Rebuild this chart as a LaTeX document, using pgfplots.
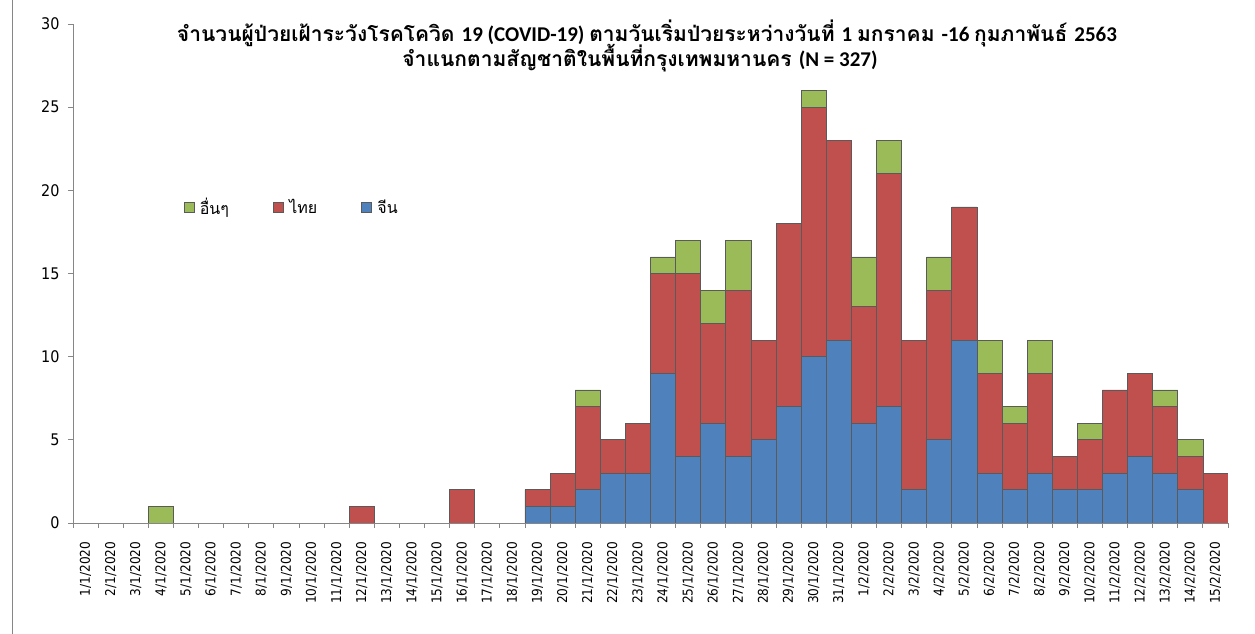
\documentclass[border=0pt]{standalone}
\usepackage{fontspec}
\setmainfont{DejaVu Sans Condensed}
\newfontfamily\thaifont[Script=Thai]{Loma}
\newfontfamily\latinfont{Carlito}
\usepackage{pgfplots}
\usepackage{pgfplotstable}
\pgfplotsset{compat=1.18}

\definecolor{cnblue}{HTML}{4F81BD}
\definecolor{thred}{HTML}{C0504D}
\definecolor{otgreen}{HTML}{9BBB59}
\definecolor{baredge}{HTML}{5A5A5A}
\definecolor{axisgray}{HTML}{868686}

% idx = day index from 1/1/2020; china / thai / other = cases
\pgfplotstableread{
idx china thai other
0 0 0 0
1 0 0 0
2 0 0 0
3 0 0 1
4 0 0 0
5 0 0 0
6 0 0 0
7 0 0 0
8 0 0 0
9 0 0 0
10 0 0 0
11 0 1 0
12 0 0 0
13 0 0 0
14 0 0 0
15 0 2 0
16 0 0 0
17 0 0 0
18 1 1 0
19 1 2 0
20 2 5 1
21 3 2 0
22 3 3 0
23 9 6 1
24 4 11 2
25 6 6 2
26 4 10 3
27 5 6 0
28 7 11 0
29 10 15 1
30 11 12 0
31 6 7 3
32 7 14 2
33 2 9 0
34 5 9 2
35 11 8 0
36 3 6 2
37 2 4 1
38 3 6 2
39 2 2 0
40 2 3 1
41 3 5 0
42 4 5 0
43 3 4 1
44 2 2 1
45 0 3 0
}\casedata

\begin{document}
\begin{tikzpicture}
\useasboundingbox (-73pt,-111pt) rectangle (1182pt,523pt);
\draw[axisgray, line width=0.8pt] (-61pt,-111pt) -- (-61pt,523pt);
\begin{axis}[
  scale only axis,
  width=1155pt, height=499pt,
  ybar stacked, bar width=1,
  xmin=-0.5, xmax=45.5,
  ymin=0, ymax=30,
  axis lines*=left,
  axis line style={axisgray, line width=0.8pt},
  axis on top,
  tick align=outside,
  tick pos=left,
  major tick length=5pt,
  minor tick length=5pt,
  tick style={axisgray, line width=0.8pt},
  ytick={0,5,...,30},
  /pgf/number format/assume math mode=true,
  yticklabel style={font=\fontsize{16}{19}\selectfont, xshift=-5pt},
  xtick={0,...,45},
  major x tick style=transparent,
  minor xtick={-0.5,0.5,...,45.5},
  xticklabels={1/1/2020,2/1/2020,3/1/2020,4/1/2020,5/1/2020,6/1/2020,7/1/2020,8/1/2020,9/1/2020,10/1/2020,11/1/2020,12/1/2020,13/1/2020,14/1/2020,15/1/2020,16/1/2020,17/1/2020,18/1/2020,19/1/2020,20/1/2020,21/1/2020,22/1/2020,23/1/2020,24/1/2020,25/1/2020,26/1/2020,27/1/2020,28/1/2020,29/1/2020,30/1/2020,31/1/2020,1/2/2020,2/2/2020,3/2/2020,4/2/2020,5/2/2020,6/2/2020,7/2/2020,8/2/2020,9/2/2020,10/2/2020,11/2/2020,12/2/2020,13/2/2020,14/2/2020,15/2/2020},
  xticklabel style={rotate=90, anchor=east, font=\fontsize{13.5}{16}\selectfont, xshift=-10pt},
  reverse legend,
  legend columns=3,
  legend style={at={(0.093,0.633)}, anchor=west, draw=none, fill=none,
    font=\thaifont\fontsize{16}{19}\selectfont,
    /tikz/every even column/.append style={column sep=42pt}},
  legend image code/.code={\path[draw=none, fill=none] (0pt,0pt) -- (14pt,0pt);
    \draw[#1, draw=baredge, line width=0.5pt] (0pt,-5pt) rectangle (10pt,5pt);},
]
\addplot[fill=cnblue, draw=baredge, line width=0.7pt] table[x=idx, y=china] {\casedata};
\addplot[fill=thred, draw=baredge, line width=0.7pt] table[x=idx, y=thai] {\casedata};
\addplot[fill=otgreen, draw=baredge, line width=0.7pt] table[x=idx, y=other] {\casedata};
\legend{จีน, ไทย, อื่นๆ}
\end{axis}
\node[anchor=base, font=\fontsize{21}{25}\selectfont\bfseries] at (574pt,481pt)
  {\thaifont จำนวนผู้ป่วยเฝ้าระวังโรคโควิด \latinfont 19 (COVID-19) \thaifont ตามวันเริ่มป่วยระหว่างวันที่ \latinfont 1 \thaifont มกราคม \latinfont -16 \thaifont กุมภาพันธ์ \latinfont 2563};
\node[anchor=base, font=\fontsize{21}{25}\selectfont\bfseries] at (567pt,456pt)
  {\thaifont จำแนกตามสัญชาติในพื้นที่กรุงเทพมหานคร \latinfont (N = 327)};
\end{tikzpicture}
\end{document}
